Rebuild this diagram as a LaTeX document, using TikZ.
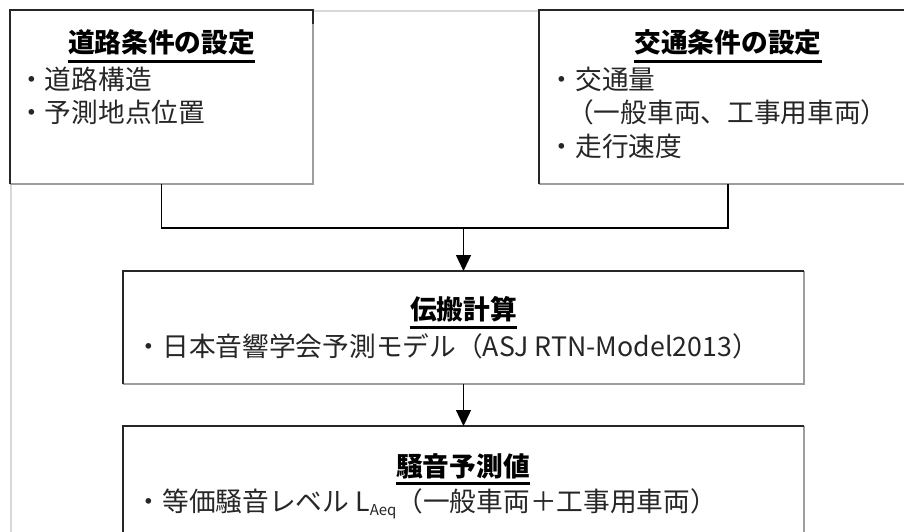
\documentclass[tikz,border=0pt]{standalone}
\usepackage{fontspec}
\setmainfont{Noto Sans CJK JP}
\usetikzlibrary{arrows.meta,calc}
\tikzset{
  box/.style={fill=white, inner sep=0pt, outer sep=0pt, anchor=north west},
  dark/.style={draw=black!85, line width=1.3pt},
  light/.style={draw=black!38, line width=1.5pt},
  frame/.style={draw=black!15, line width=1.6pt},
  ttl/.style={font=\fontsize{26.7}{32}\selectfont\bfseries, inner sep=0pt, anchor=base},
  txt/.style={font=\fontsize{26.7}{32}\selectfont, inner sep=0pt, anchor=base west, text=black!85},
  uline/.style={line width=3pt},
  conn/.style={draw=black, line width=1.4pt},
  arr/.style={conn, -{Triangle[width=15pt,length=16pt]}},
}
\begin{document}
\begin{tikzpicture}[x=1pt, y=-1pt]
\useasboundingbox (0,0) rectangle (904,532);
% page frame
\draw[frame] (11,11) -- (910,11);
\draw[frame] (11,11) -- (11,540);
% boxes
\node[box, minimum width=303pt, minimum height=174pt] (road) at (10,10) {};
\node[box, minimum width=378pt, minimum height=174pt] (traffic) at (539,10) {};
\node[box, minimum width=681pt, minimum height=113pt] (prop) at (123,271) {};
\node[box, minimum width=681pt, minimum height=120pt] (noise) at (123,426) {};
% box edges
\draw[light] (road.north east) -- (road.south east) -- (road.south west);
\draw[dark] (road.south west) -- (road.north west) -- (road.north east) -- ++(0,14);
\draw[light] (traffic.south west) -- (traffic.south east);
\draw[dark] (traffic.south west) -- (traffic.north west) -- (traffic.north east);
\draw[light] (prop.north east) -- (prop.south east) -- (prop.south west);
\draw[dark] (prop.south west) -- (prop.north west) -- (prop.north east);
\draw[light] (noise.north east) -- (noise.south east);
\draw[dark] (noise.south west) -- (noise.north west) -- (noise.north east);
% texts: road
\node[ttl] (t1) at (161.5,53) {道路条件の設定};
\draw[uline] ($(t1.base west)+(0,8.5)$) -- ($(t1.base east)+(0,8.5)$);
\node[txt] (r1) at (18,90) {・道路構造};
\node[txt] (r2) at (18,122) {・予測地点位置};
% traffic
\node[ttl] (t2) at (728,53) {交通条件の設定};
\draw[uline] ($(t2.base west)+(0,8.5)$) -- ($(t2.base east)+(0,8.5)$);
\node[txt] (k1) at (548.5,90) {・交通量};
\node[txt] (k2) at (567,122) {（一般車両、工事用車両）};
\node[txt] (k3) at (548.5,156) {・走行速度};
% propagation
\node[ttl] (t3) at (463.5,319) {伝搬計算};
\draw[uline] ($(t3.base west)+(0,8)$) -- ($(t3.base east)+(0,8)$);
\node[txt] (p1) at (135.5,356) {・日本音響学会予測モデル（ASJ RTN-Model2013）};
% noise
\node[ttl] (t4) at (463,476) {騒音予測値};
\draw[uline] ($(t4.base west)+(0,7.5)$) -- ($(t4.base east)+(0,7.5)$);
\node[txt] (n1) at (135.5,511) {・等価騒音レベル L\raisebox{-4.5pt}{\fontsize{15}{18}\selectfont Aeq}（一般車両＋工事用車両）};
% connectors
\coordinate (j) at (463.5,228);
\draw[conn] (road.south) |- (j) -| (traffic.south);
\draw[arr] (j) -- (prop.north);
\draw[arr] (prop.south) -- (noise.north);
\end{tikzpicture}
\end{document}
